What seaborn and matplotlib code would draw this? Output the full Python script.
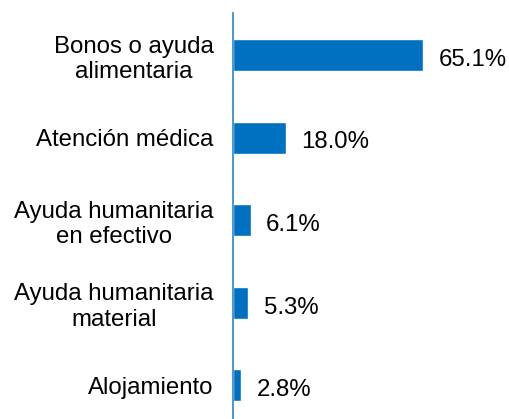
import matplotlib
matplotlib.use("Agg")
import matplotlib.pyplot as plt
import pandas as pd
import seaborn as sns

CATEGORIES = [
    "Bonos o ayuda\nalimentaria",
    "Atención médica",
    "Ayuda humanitaria\nen efectivo",
    "Ayuda humanitaria\nmaterial",
    "Alojamiento",
]
VALUES = [65.1, 18.0, 6.1, 5.3, 2.8]
VALUE_LABELS = ["65.1%", "18.0%", "6.1%", "5.3%", "2.8%"]

BAR_COLOR = "#0070C0"
AXIS_COLOR = "#3E8ED0"
FONT_SIZE = 17.3


def main():
    sns.set_style("white")
    plt.rcParams["font.family"] = ["Liberation Sans", "DejaVu Sans"]

    df = pd.DataFrame({"category": CATEGORIES, "value": VALUES})

    fig = plt.figure(figsize=(5.10, 4.19), dpi=100)
    ax = fig.add_axes([233 / 510, 0.0, 1 - 233 / 510, 1 - 13 / 419])

    sns.barplot(
        data=df,
        x="value",
        y="category",
        orient="h",
        color=BAR_COLOR,
        saturation=1,
        width=0.39,
        ax=ax,
    )

    for i, (v, lab) in enumerate(zip(VALUES, VALUE_LABELS)):
        ax.annotate(
            lab,
            xy=(v, i),
            xytext=(11, -3.5),
            textcoords="offset points",
            va="center",
            ha="left",
            fontsize=FONT_SIZE,
            color="black",
        )

    ax.set_xlim(0, 94.9)
    ax.set_ylim(4.41, -0.51)
    ax.set_xlabel("")
    ax.set_ylabel("")
    ax.set_xticks([])
    ax.tick_params(axis="y", length=0, pad=14, labelsize=FONT_SIZE,
                   labelcolor="black")
    for t in ax.get_yticklabels():
        t.set_multialignment("center")
        t.set_linespacing(1.2)

    for side in ["top", "right", "bottom"]:
        ax.spines[side].set_visible(False)
    ax.spines["left"].set_color(AXIS_COLOR)
    ax.spines["left"].set_linewidth(1.3)

    fig.savefig("out.png", dpi=100)


if __name__ == "__main__":
    main()
